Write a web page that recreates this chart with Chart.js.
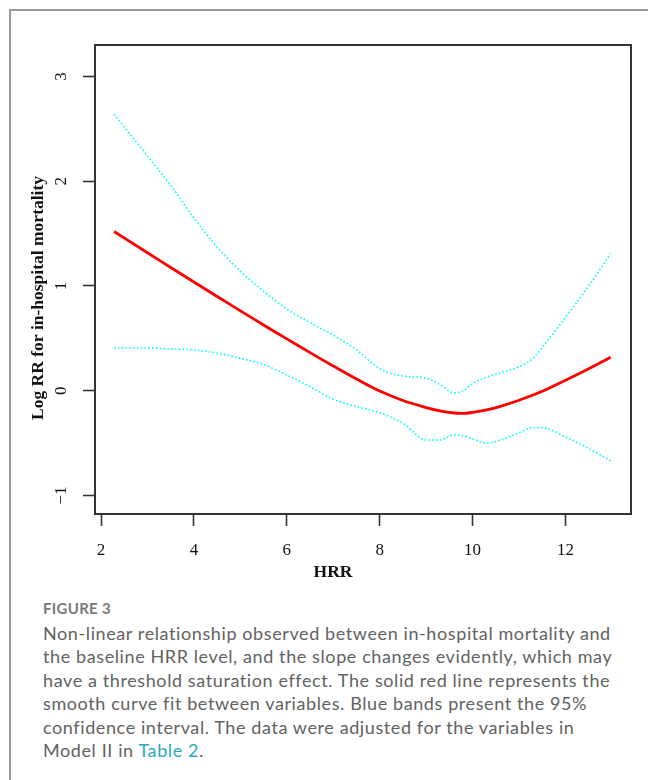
<!DOCTYPE html>
<html lang="en">
<head>
<meta charset="UTF-8">
<title>HRR vs in-hospital mortality</title>
<style>
body {margin:0; width:648px; height:780px; overflow:hidden; background:#fff; position:relative; font-family: Lato, "Open Sans", sans-serif;}
#frame {position:absolute; left:9px; top:9px; width:700px; height:800px; border-left:2px solid #9a9a9a; border-top:2px solid #9a9a9a;}
#wrap {position:absolute; left:0; top:0; width:648px; height:590px;}
#figlabel {position:absolute; left:43px; top:599px; font-size:15px; font-weight:bold; color:#7a7a7a; letter-spacing:0.3px;}
#caption {position:absolute; left:43px; top:622px; font-size:18px; line-height:23.4px; color:#626262; letter-spacing:0.6px; white-space:nowrap;}
#caption a {color:#2aa8c3; text-decoration:none;}
</style>
</head>
<body>
<div id="frame"></div>
<div id="wrap"><canvas id="chart" width="648" height="590"></canvas></div>
<div id="figlabel">FIGURE 3</div>
<div id="caption">Non-linear relationship observed between in-hospital mortality and<br>the baseline HRR level, and the slope changes evidently, which may<br>have a threshold saturation effect. The solid red line represents the<br>smooth curve fit between variables. Blue bands present the 95%<br>confidence interval. The data were adjusted for the variables in<br>Model II in <a>Table 2</a>.</div>
<script src="https://cdn.jsdelivr.net/npm/chart.js"></script>
<script>
// values
const hrr   = [2.28, 3, 3.5, 4, 4.5, 5, 5.5, 6, 6.5, 7, 7.5, 8, 8.5, 9, 9.3, 9.6, 9.8, 10, 10.3, 10.6, 11, 11.3, 11.6, 12, 12.5, 12.97];
const fit   = [1.52, 1.317, 1.177, 1.038, 0.900, 0.763, 0.628, 0.495, 0.364, 0.236, 0.112, -0.003, -0.093, -0.160, -0.192, -0.212, -0.216, -0.207, -0.183, -0.148, -0.09, -0.04, 0.015, 0.10, 0.21, 0.32];
const upper = [2.64, 2.24, 1.96, 1.65, 1.37, 1.14, 0.95, 0.78, 0.65, 0.53, 0.39, 0.21, 0.14, 0.12, 0.06, -0.02, 0.0, 0.07, 0.13, 0.17, 0.23, 0.31, 0.47, 0.70, 1.00, 1.31];
const lower = [0.41, 0.41, 0.40, 0.39, 0.36, 0.31, 0.25, 0.15, 0.04, -0.08, -0.15, -0.21, -0.31, -0.47, -0.47, -0.42, -0.43, -0.46, -0.50, -0.47, -0.40, -0.35, -0.36, -0.44, -0.55, -0.67];
const xTicks = [2, 4, 6, 8, 10, 12];
const yTicks = [-1, 0, 1, 2, 3];

const pts = arr => hrr.map((x, i) => ({x: x, y: arr[i]}));
const serif = '"Liberation Serif", "Times New Roman", serif';

const boxPlugin = {
  id: 'box',
  afterDraw(chart) {
    const {ctx, chartArea: a} = chart;
    ctx.save();
    ctx.strokeStyle = '#333';
    ctx.lineWidth = 2;
    ctx.strokeRect(a.left, a.top, a.right - a.left, a.bottom - a.top);
    // axis titles
    ctx.fillStyle = '#111';
    ctx.font = 'bold 17.5px ' + serif;
    ctx.textAlign = 'center';
    ctx.textBaseline = 'middle';
    ctx.fillText('HRR', 333, 572);
    ctx.translate(38, 298);
    ctx.rotate(-Math.PI / 2);
    ctx.fillText('Log RR for in-hospital mortality', 0, 0);
    ctx.restore();
  }
};

new Chart(document.getElementById('chart'), {
  type: 'line',
  data: {
    datasets: [
      {data: pts(upper), borderColor: '#00ffff', borderWidth: 1.6, borderDash: [1.6, 2.2], pointRadius: 0, cubicInterpolationMode: 'monotone', fill: false},
      {data: pts(lower), borderColor: '#00ffff', borderWidth: 1.6, borderDash: [1.6, 2.2], pointRadius: 0, cubicInterpolationMode: 'monotone', fill: false},
      {data: pts(fit), borderColor: '#ff0000', borderWidth: 2.8, pointRadius: 0, tension: 0.4, fill: false}
    ]
  },
  options: {
    responsive: false,
    animation: false,
    layout: {padding: {left: 0, top: 45, right: 17, bottom: 0}},
    plugins: {legend: {display: false}, tooltip: {enabled: false}},
    scales: {
      x: {
        type: 'linear', min: 1.87, max: 13.41,
        afterBuildTicks: s => { s.ticks = xTicks.map(v => ({value: v})); },
        afterFit: s => { s.height = 76; },
        border: {display: false},
        grid: {drawOnChartArea: false, drawTicks: true, tickLength: 12, tickColor: '#333', tickWidth: 1.6},
        ticks: {color: '#111', padding: 14, font: {family: serif, size: 17}}
      },
      y: {
        type: 'linear', min: -1.176, max: 3.30,
        afterBuildTicks: s => { s.ticks = yTicks.map(v => ({value: v})); },
        afterFit: s => { s.width = 95; },
        border: {display: false},
        grid: {drawOnChartArea: false, drawTicks: true, tickLength: 12, tickColor: '#333', tickWidth: 1.6},
        ticks: {color: '#111', padding: 12, minRotation: 90, maxRotation: 90, crossAlign: 'center',
                font: {family: serif, size: 17},
                callback: v => (v < 0 ? '\u2212' + Math.abs(v) : String(v))}
      }
    }
  },
  plugins: [boxPlugin]
});
</script>
</body>
</html>
